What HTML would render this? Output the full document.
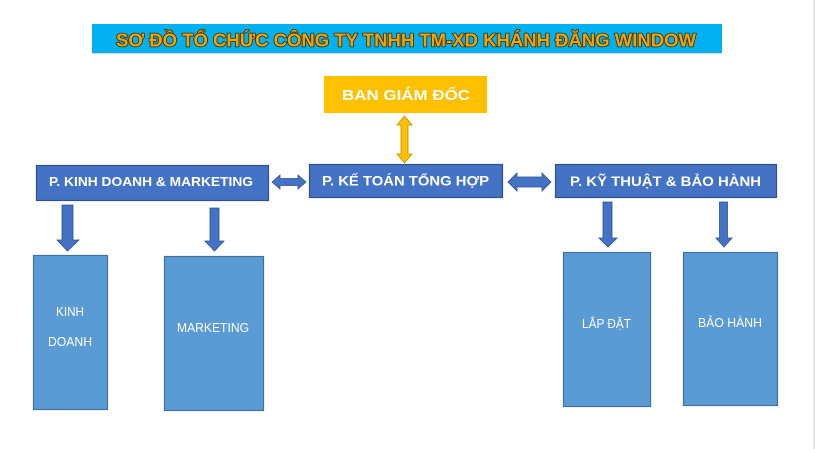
<!DOCTYPE html>
<html>
<head>
<meta charset="utf-8">
<style>
  html,body{margin:0;padding:0;background:#fff;}
  body{width:815px;height:449px;overflow:hidden;}
  svg{display:block;}
  .t{font-family:"Liberation Sans","DejaVu Sans",sans-serif;}
</style>
</head>
<body>
<svg width="815" height="449" viewBox="0 0 815 449" xmlns="http://www.w3.org/2000/svg">
  <rect x="0" y="0" width="815" height="449" fill="#ffffff"/>
  <!-- right border line -->
  <rect x="813.5" y="0" width="1.2" height="449" fill="#cfcfcf"/>

  <!-- Title bar -->
  <rect x="92" y="24" width="630" height="29" fill="#00B0F0"/>
  <rect x="92" y="53" width="630" height="1" fill="#d8d8d8"/>
  <text class="t" x="116" y="46.5" font-size="18" font-weight="bold" fill="#F5A300" stroke="#3b2a00" stroke-width="1.6" paint-order="stroke" stroke-linejoin="round" textLength="580" lengthAdjust="spacingAndGlyphs">SƠ ĐỒ TỔ CHỨC CÔNG TY TNHH TM-XD KHÁNH ĐĂNG WINDOW</text>

  <!-- BAN GIAM DOC -->
  <rect x="324" y="76" width="163" height="37" fill="#FFC000"/>
  <text class="t" x="342" y="100" font-size="15" font-weight="bold" fill="#ffffff" textLength="128" lengthAdjust="spacingAndGlyphs">BAN GIÁM ĐỐC</text>

  <!-- vertical yellow double arrow -->
  <polygon points="404.5,116 412,125 408,125 408,154 412,154 404.5,163 397,154 401,154 401,125 397,125" fill="#FFC000" stroke="#BF9000" stroke-width="0.8"/>

  <!-- P. KINH DOANH & MARKETING -->
  <rect x="36.5" y="165.5" width="232" height="35" fill="#4472C4" stroke="#2F528F" stroke-width="1.2"/>
  <text class="t" x="49" y="186" font-size="13" font-weight="bold" fill="#ffffff" textLength="204" lengthAdjust="spacingAndGlyphs">P. KINH DOANH &amp; MARKETING</text>

  <!-- arrow KD <-> KT -->
  <polygon points="272,182 280,175 280,178.5 298,178.5 298,175 306,182 298,189 298,185.5 280,185.5 280,189" fill="#4472C4" stroke="#2F528F" stroke-width="0.8"/>

  <!-- P. KE TOAN TONG HOP -->
  <rect x="309.5" y="164.5" width="193" height="33" fill="#4472C4" stroke="#2F528F" stroke-width="1.2"/>
  <text class="t" x="322" y="185.5" font-size="13.5" font-weight="bold" fill="#ffffff" textLength="167" lengthAdjust="spacingAndGlyphs">P. KẾ TOÁN TỔNG HỢP</text>

  <!-- arrow KT <-> KY THUAT -->
  <polygon points="508,182 517,173 517,177 542,177 542,173 551,182 542,191 542,187 517,187 517,191" fill="#4472C4" stroke="#2F528F" stroke-width="0.8"/>

  <!-- P. KY THUAT & BAO HANH -->
  <rect x="555.5" y="164.5" width="221" height="33" fill="#4472C4" stroke="#2F528F" stroke-width="1.2"/>
  <text class="t" x="570" y="186" font-size="13.5" font-weight="bold" fill="#ffffff" textLength="191" lengthAdjust="spacingAndGlyphs">P. KỸ THUẬT &amp; BẢO HÀNH</text>

  <!-- down arrows -->
  <polygon points="62,205 73,205 73,240 79,240 67.5,251 57,240 62,240" fill="#4472C4" stroke="#2F528F" stroke-width="0.8"/>
  <polygon points="210,208 219,208 219,241 224,241 214.5,251 205,241 210,241" fill="#4472C4" stroke="#2F528F" stroke-width="0.8"/>
  <polygon points="603,202 612,202 612,238 617,238 608,247 599,238 603,238" fill="#4472C4" stroke="#2F528F" stroke-width="0.8"/>
  <polygon points="719.5,202 727.5,202 727.5,238 732,238 724,247 716,238 719.5,238" fill="#4472C4" stroke="#2F528F" stroke-width="0.8"/>

  <!-- sub boxes -->
  <rect x="33.5" y="255.5" width="74" height="154" fill="#5B9BD5" stroke="#41719C" stroke-width="1.2"/>
  <text class="t" x="56" y="316" font-size="13" fill="#ffffff" textLength="28" lengthAdjust="spacingAndGlyphs">KINH</text>
  <text class="t" x="48" y="346" font-size="13" fill="#ffffff" textLength="44" lengthAdjust="spacingAndGlyphs">DOANH</text>

  <rect x="164.5" y="256.5" width="99" height="154" fill="#5B9BD5" stroke="#41719C" stroke-width="1.2"/>
  <text class="t" x="177" y="332" font-size="13" fill="#ffffff" textLength="72" lengthAdjust="spacingAndGlyphs">MARKETING</text>

  <rect x="563.5" y="252.5" width="87" height="154" fill="#5B9BD5" stroke="#41719C" stroke-width="1.2"/>
  <text class="t" x="582" y="328" font-size="13" fill="#ffffff" textLength="49" lengthAdjust="spacingAndGlyphs">LẮP ĐẶT</text>

  <rect x="683.5" y="252.5" width="94" height="153" fill="#5B9BD5" stroke="#41719C" stroke-width="1.2"/>
  <text class="t" x="698" y="327" font-size="13" fill="#ffffff" textLength="64" lengthAdjust="spacingAndGlyphs">BẢO HÀNH</text>
</svg>
</body>
</html>
